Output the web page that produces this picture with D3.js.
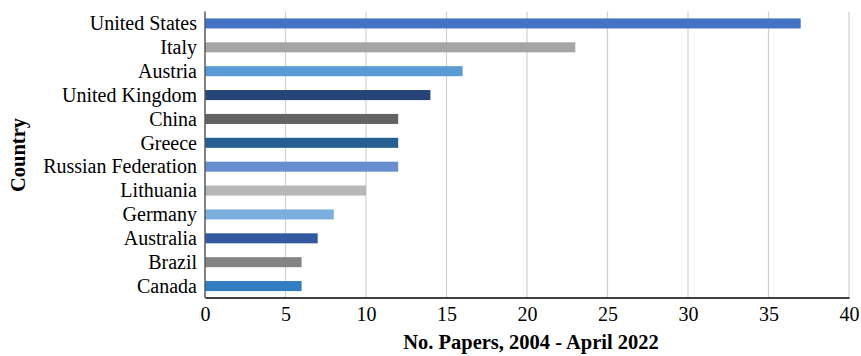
<!DOCTYPE html>
<html>
<head>
<meta charset="utf-8">
<script src="https://cdn.jsdelivr.net/npm/d3@7"></script>
<style>
  html, body { margin: 0; padding: 0; background: #fff; }
  svg { display: block; }
</style>
</head>
<body>
<svg id="chart" width="861" height="356"></svg>
<script>
// Papers per country, 2004 - April 2022
const countries = ["United States", "Italy", "Austria", "United Kingdom", "China", "Greece",
  "Russian Federation", "Lithuania", "Germany", "Australia", "Brazil", "Canada"];
const papers = [37, 23, 16, 14, 12, 12, 12, 10, 8, 7, 6, 6];
const barColors = ["#4472C4", "#A5A5A5", "#5B9BD5", "#264478", "#636363", "#255E91",
  "#698ED0", "#B7B7B7", "#7CAFDD", "#335AA1", "#848484", "#327DC2"];
const xTicks = [0, 5, 10, 15, 20, 25, 30, 35, 40];

const FONT = "Liberation Serif";
const FS = 20;

const svg = d3.select("#chart");
const plotTop = 11.5, plotBottom = 298;

const x = d3.scaleLinear().domain([0, 40]).range([205, 849]);
const y = d3.scaleBand().domain(countries).range([plotTop, plotBottom])
  .paddingInner(0.58).paddingOuter(0.29);

// vertical gridlines
svg.append("g").selectAll("line").data(xTicks.filter(d => d > 0)).join("line")
  .attr("x1", d => x(d)).attr("x2", d => x(d))
  .attr("y1", plotTop).attr("y2", plotBottom)
  .attr("stroke", "#d0d0d0").attr("stroke-width", 1.2);

// bars
svg.append("g").selectAll("rect").data(countries).join("rect")
  .attr("x", x(0))
  .attr("y", d => y(d))
  .attr("width", (d, i) => x(papers[i]) - x(0))
  .attr("height", y.bandwidth())
  .attr("fill", (d, i) => barColors[i]);

// category labels
svg.append("g").selectAll("text").data(countries).join("text")
  .attr("x", 197)
  .attr("y", d => y(d) + y.bandwidth() / 2)
  .attr("dy", "0.34em")
  .attr("text-anchor", "end")
  .attr("font-family", FONT)
  .attr("font-size", FS)
  .attr("fill", "#000")
  .text(d => d);

// left axis line
svg.append("line")
  .attr("x1", x(0)).attr("x2", x(0)).attr("y1", plotTop).attr("y2", plotBottom)
  .attr("stroke", "#595959").attr("stroke-width", 1.5);

// bottom axis
const xAxis = d3.axisBottom(x).tickValues(xTicks).tickSize(0).tickPadding(9);
const gx = svg.append("g").attr("transform", "translate(0,297.5)").call(xAxis)
  .attr("font-family", FONT).attr("font-size", FS);
gx.select(".domain").attr("stroke", "#000").attr("stroke-width", 1.3);
gx.selectAll("text").attr("fill", "#000");

// axis titles
svg.append("text")
  .attr("x", 531).attr("y", 349)
  .attr("text-anchor", "middle")
  .attr("font-family", FONT)
  .attr("font-size", 20.5).attr("font-weight", "bold")
  .text("No. Papers, 2004 - April 2022");

svg.append("text")
  .attr("transform", "translate(24.5,155) rotate(-90)")
  .attr("text-anchor", "middle")
  .attr("font-family", FONT)
  .attr("font-size", 20.5).attr("font-weight", "bold")
  .text("Country");
</script>
</body>
</html>
